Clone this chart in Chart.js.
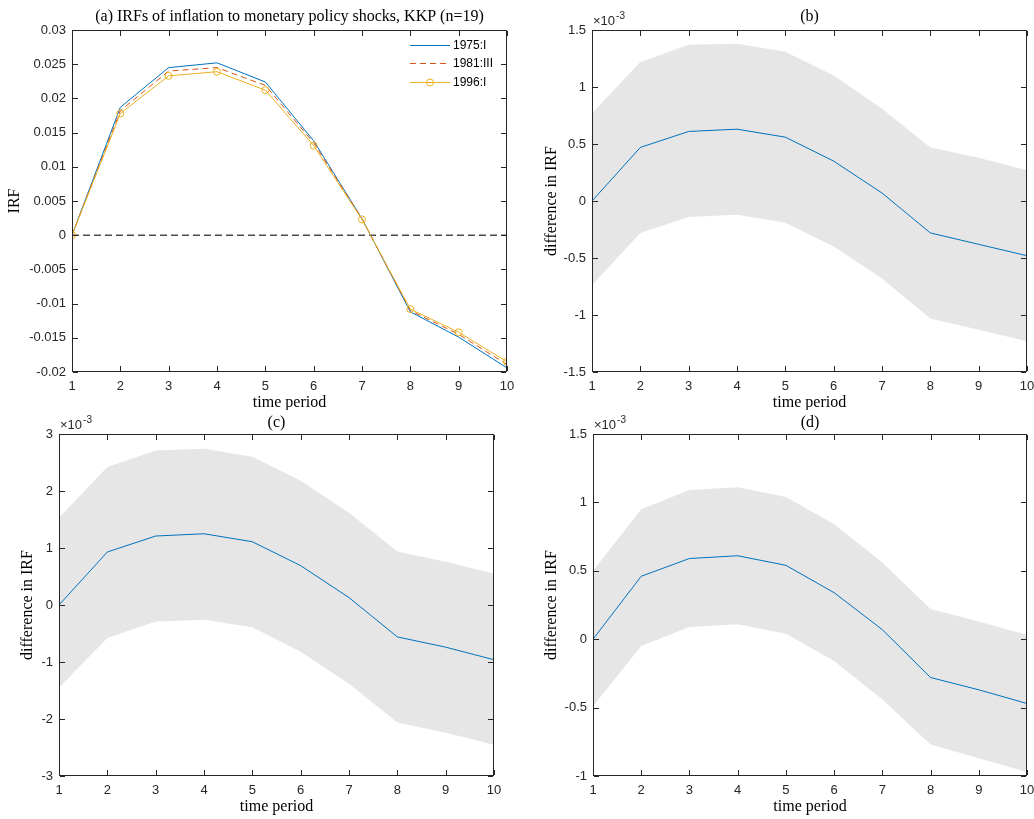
<!DOCTYPE html>
<html>
<head>
<meta charset="utf-8">
<script src="https://cdn.jsdelivr.net/npm/chart.js@4.4.1/dist/chart.umd.min.js"></script>
<style>
  html, body { margin:0; padding:0; background:#fff; }
  #wrap { position:relative; width:1034px; height:819px; }
  #wrap canvas { position:absolute; }
</style>
</head>
<body>
<div id="wrap">
  <canvas id="chA" width="517" height="410" style="left:0;top:0"></canvas>
  <canvas id="chB" width="517" height="410" style="left:517px;top:0"></canvas>
  <canvas id="chC" width="517" height="409" style="left:0;top:410px"></canvas>
  <canvas id="chD" width="517" height="409" style="left:517px;top:410px"></canvas>
</div>
<script>
// x axis: time periods
const periods = [1, 2, 3, 4, 5, 6, 7, 8, 9, 10];

// (a) IRFs for the three dates
const seriesNames = ['1975:I', '1981:III', '1996:I'];
const irf1975 = [0, 0.0187, 0.0245, 0.0252, 0.0224, 0.0138, 0.0024, -0.0112, -0.0149, -0.0194];
const irf1981 = [0, 0.0182, 0.0240, 0.0245, 0.0219, 0.0135, 0.0024, -0.0110, -0.0145, -0.0189];
const irf1996 = [0, 0.0178, 0.0233, 0.0239, 0.0212, 0.0131, 0.0023, -0.0108, -0.0142, -0.0185];
const zeroLine = [0, 0, 0, 0, 0, 0, 0, 0, 0, 0];

// (b)-(d) differences in IRF, in units of 1e-3
const diffB  = [0, 0.47, 0.61, 0.63, 0.56, 0.35, 0.07, -0.28, -0.38, -0.48];
const upperB = [0.77, 1.22, 1.37, 1.38, 1.31, 1.10, 0.81, 0.47, 0.38, 0.27];
const lowerB = [-0.74, -0.28, -0.14, -0.12, -0.19, -0.40, -0.68, -1.03, -1.13, -1.23];

const diffC  = [0, 0.93, 1.21, 1.25, 1.11, 0.69, 0.13, -0.56, -0.74, -0.96];
const upperC = [1.53, 2.42, 2.71, 2.74, 2.60, 2.18, 1.62, 0.94, 0.76, 0.55];
const lowerC = [-1.45, -0.58, -0.29, -0.26, -0.39, -0.82, -1.38, -2.06, -2.24, -2.45];

const diffD  = [0, 0.46, 0.59, 0.61, 0.54, 0.34, 0.07, -0.28, -0.37, -0.47];
const upperD = [0.50, 0.95, 1.09, 1.11, 1.04, 0.84, 0.56, 0.22, 0.13, 0.03];
const lowerD = [-0.49, -0.05, 0.09, 0.11, 0.04, -0.16, -0.44, -0.77, -0.87, -0.97];

// tick values
const xTicks  = [1, 2, 3, 4, 5, 6, 7, 8, 9, 10];
const yTicksA = [-0.02, -0.015, -0.01, -0.005, 0, 0.005, 0.01, 0.015, 0.02, 0.025, 0.03];
const yTicksB = [-1.5, -1, -0.5, 0, 0.5, 1, 1.5];
const yTicksC = [-3, -2, -1, 0, 1, 2, 3];
const yTicksD = [-1, -0.5, 0, 0.5, 1, 1.5];

const AXIS = '#262626';
const SERIF = '"Liberation Serif", "Times New Roman", serif';
const SANS = '"Liberation Sans", Arial, sans-serif';
const BLUE = '#0072BD', RED = '#D95319', YELLOW = '#EDB120', BAND = '#e6e6e6';

Chart.defaults.font.family = SANS;
Chart.defaults.font.size = 13;
Chart.defaults.color = AXIS;
Chart.defaults.animation = false;

const pts = arr => periods.map((p, i) => ({x: p, y: arr[i]}));

// box, inward ticks, titles, exponent and legend (matlab look)
function makeDeco(o){
  return {
    id: 'deco',
    afterDraw(chart){
      const c = chart.ctx, a = chart.chartArea;
      const xs = chart.scales.x, ys = chart.scales.y;
      const L = Math.round(a.left), R = Math.round(a.right) - 1;
      const T = Math.round(a.top), B = Math.round(a.bottom) - 1;
      c.save();
      c.fillStyle = AXIS;
      c.fillRect(L, T, R - L + 1, 1);
      c.fillRect(L, B, R - L + 1, 1);
      c.fillRect(L, T, 1, B - T + 1);
      c.fillRect(R, T, 1, B - T + 1);
      xs.ticks.forEach(t => {
        const x = Math.round(xs.getPixelForValue(t.value));
        c.fillRect(x, B - 5, 1, 5);
        c.fillRect(x, T + 1, 1, 5);
      });
      ys.ticks.forEach(t => {
        const y = Math.round(ys.getPixelForValue(t.value));
        c.fillRect(L + 1, y, 5, 1);
        c.fillRect(R - 5, y, 5, 1);
      });

      c.fillStyle = '#000';
      c.font = '16px ' + SERIF;
      c.textAlign = 'center'; c.textBaseline = 'middle';
      const cx = (a.left + a.right) / 2;
      c.fillText(o.title, cx, o.titleY);
      c.fillText('time period', cx, o.xTitleY);
      c.save();
      c.translate(o.yTitleX, (a.top + a.bottom) / 2);
      c.rotate(-Math.PI / 2);
      c.fillText(o.yTitle, 0, 0);
      c.restore();

      if (o.exponent){
        c.fillStyle = AXIS;
        c.textAlign = 'left'; c.textBaseline = 'alphabetic';
        c.font = '13px ' + SANS;
        const x0 = a.left + 1, y0 = a.top - 5;
        c.fillText('\u00d710', x0, y0);
        const w = c.measureText('\u00d710').width;
        c.font = '10px ' + SANS;
        c.fillText('-3', x0 + w + 1, y0 - 6);
      }

      if (o.legend){
        const rows = [
          {col: BLUE, dash: [], marker: false},
          {col: RED, dash: [6, 4], marker: false},
          {col: YELLOW, dash: [], marker: true}
        ];
        c.font = '12px ' + SANS;
        c.textAlign = 'left'; c.textBaseline = 'middle';
        rows.forEach((r, i) => {
          const y = Math.round(45 + i * 18.4) + .5;
          c.strokeStyle = r.col; c.lineWidth = 1; c.setLineDash(r.dash);
          c.beginPath(); c.moveTo(410, y); c.lineTo(450, y); c.stroke();
          c.setLineDash([]);
          if (r.marker){
            c.beginPath(); c.arc(430, y, 3.5, 0, Math.PI * 2); c.stroke();
          }
          c.fillStyle = '#000';
          c.fillText(seriesNames[i], 453, y);
        });
      }
      c.restore();
    }
  };
}

function scales(yMin, yMax, yTicks, yWidth, xHeight){
  return {
    x: {
      type: 'linear', min: 1, max: 10,
      grid: {display: false, drawTicks: false}, border: {display: false},
      afterBuildTicks: s => { s.ticks = xTicks.map(v => ({value: v})); },
      afterFit: s => { s.height = xHeight; s.paddingLeft = 0; s.paddingRight = 0; },
      ticks: {padding: 7, maxRotation: 0, callback: v => String(v)}
    },
    y: {
      min: yMin, max: yMax,
      grid: {display: false, drawTicks: false}, border: {display: false},
      afterBuildTicks: s => { s.ticks = yTicks.map(v => ({value: v})); },
      afterFit: s => { s.width = yWidth; s.paddingTop = 0; s.paddingBottom = 0; },
      ticks: {padding: 6, callback: v => String(v)}
    }
  };
}

function bandChart(id, diff, upper, lower, yMin, yMax, yTicks, geo){
  new Chart(document.getElementById(id), {
    type: 'line',
    data: {
      datasets: [
        {data: pts(diff), borderColor: BLUE, borderWidth: 1, pointRadius: 0, fill: false, order: 0},
        {data: pts(upper), borderWidth: 0, borderColor: 'rgba(0,0,0,0)', backgroundColor: BAND,
         pointRadius: 0, fill: '+1', order: 1},
        {data: pts(lower), borderWidth: 0, borderColor: 'rgba(0,0,0,0)', pointRadius: 0, fill: false, order: 2}
      ]
    },
    options: {
      responsive: false,
      layout: {padding: {left: 0, right: geo.right, top: geo.top, bottom: 0}},
      plugins: {legend: {display: false}, tooltip: {enabled: false}},
      scales: scales(yMin, yMax, yTicks, geo.left, geo.xh)
    },
    plugins: [makeDeco({title: geo.title, titleY: geo.titleY, xTitleY: geo.xTitleY,
                        yTitle: 'difference in IRF', yTitleX: geo.yTitleX, exponent: true})]
  });
}

// (a)
new Chart(document.getElementById('chA'), {
  type: 'line',
  data: {
    datasets: [
      {label: seriesNames[2], data: pts(irf1996), borderColor: YELLOW, borderWidth: 1,
       pointRadius: 3.5, pointBorderColor: YELLOW, pointBackgroundColor: 'rgba(0,0,0,0)', pointBorderWidth: 1, order: 0},
      {label: seriesNames[1], data: pts(irf1981), borderColor: RED, borderWidth: 1, borderDash: [6, 4],
       pointRadius: 0, order: 1},
      {label: seriesNames[0], data: pts(irf1975), borderColor: BLUE, borderWidth: 1, pointRadius: 0, order: 2},
      {data: pts(zeroLine), borderColor: '#4d4d4d', borderWidth: 1.5, borderDash: [7, 4], pointRadius: 0, order: 3}
    ]
  },
  options: {
    responsive: false,
    layout: {padding: {left: 0, right: 10, top: 30, bottom: 0}},
    plugins: {legend: {display: false}, tooltip: {enabled: false}},
    scales: scales(-0.02, 0.03, yTicksA, 72, 38)
  },
  plugins: [makeDeco({title: '(a) IRFs of inflation to monetary policy shocks, KKP (n=19)', titleY: 17,
                      xTitleY: 403, yTitle: 'IRF', yTitleX: 15, legend: true})]
});

bandChart('chB', diffB, upperB, lowerB, -1.5, 1.5, yTicksB,
  {title: '(b)', titleY: 17, xTitleY: 403, yTitleX: 35, left: 75, right: 7, top: 30, xh: 38});
bandChart('chC', diffC, upperC, lowerC, -3, 3, yTicksC,
  {title: '(c)', titleY: 13, xTitleY: 397, yTitleX: 28, left: 59, right: 23, top: 24, xh: 43});
bandChart('chD', diffD, upperD, lowerD, -1, 1.5, yTicksD,
  {title: '(d)', titleY: 13, xTitleY: 397, yTitleX: 35, left: 76, right: 7, top: 24, xh: 43});
</script>
</body>
</html>
